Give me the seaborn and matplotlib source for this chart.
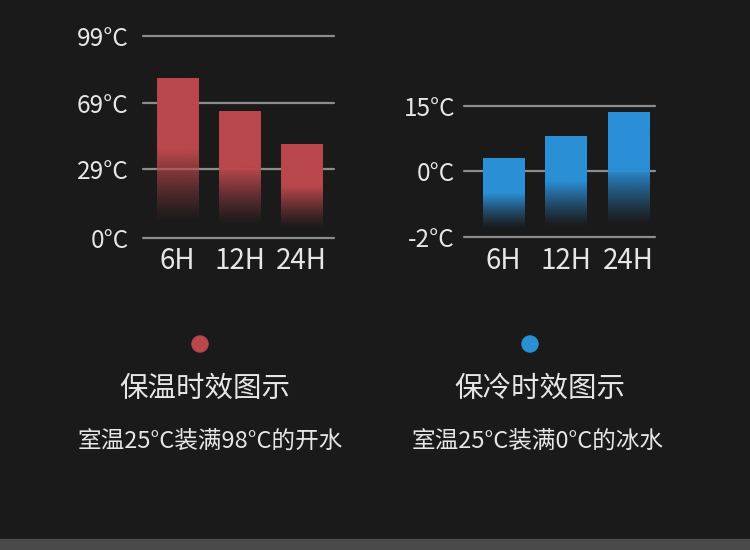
import numpy as np
import pandas as pd
import matplotlib
matplotlib.use("Agg")
import matplotlib.pyplot as plt
import seaborn as sns
from matplotlib.colors import to_rgb
from matplotlib.patches import Ellipse, Rectangle

# chart data
hours = ["6H", "12H", "24H"]
hot_values = [80, 64, 44]        # 保温: 98°C boiling water
cold_values = [3, 8, 13.5]       # 保冷: 0°C ice water
hot_ticks = [0, 29, 69, 99]
cold_ticks = [-2, 0, 15]
hot_title = "保温时效图示"
cold_title = "保冷时效图示"
hot_note = "室温25°C装满98°C的开水"
cold_note = "室温25°C装满0°C的冰水"

BG = "#1a1a1a"
RED = "#b9474b"
BLUE = "#2b8fd6"
GRID = "#8c8c8c"
TXT = "#e6e6e6"

sns.set_theme(style="dark")
plt.rcParams['font.family'] = ['Noto Sans CJK SC', 'DejaVu Sans']

# the axis is not linear: tick values sit at (almost) evenly spaced gridlines
hot_tick_pos = [0, 69.3, 135, 202.3]
cold_tick_pos = [0, 66.3, 131.6]


def fade_bars(ax, color):
    """replace flat bar fill by a colour that fades out to the bottom"""
    rgb = to_rgb(color)
    n = 256
    t = np.linspace(0, 1, n)[:, None]
    alpha = np.clip((t - 0.10) / (0.55 - 0.10), 0, 1) ** 1.2
    img = np.zeros((n, 1, 4))
    img[..., 0], img[..., 1], img[..., 2] = rgb
    img[..., 3] = alpha
    for patch in ax.patches:
        x0, y0 = patch.get_x(), patch.get_y()
        w, h = patch.get_width(), patch.get_height()
        im = ax.imshow(img, origin="lower", aspect="auto",
                       extent=(x0, x0 + w, y0, y0 + h), zorder=3,
                       interpolation="bilinear")
        im.set_clip_path(patch)
        patch.set_alpha(0)
    ax.set_aspect("auto")


def draw_panel(ax, values, ticks, tick_pos, color, xlim, ypad):
    heights = np.interp(values, ticks, tick_pos)
    df = pd.DataFrame({"hour": hours, "h": heights})
    sns.barplot(data=df, x="hour", y="h", color=color, width=0.67,
                saturation=1, ax=ax, zorder=3)
    fade_bars(ax, color)
    ax.set_facecolor(BG)
    for p in tick_pos:
        ax.axhline(p, color=GRID, lw=1.6, zorder=2, clip_on=False)
    ax.set_xlim(*xlim)
    ax.set_ylim(tick_pos[0], tick_pos[-1])
    ax.set_yticks(tick_pos)
    ax.set_yticklabels([f"{v}°C" for v in ticks])
    ax.tick_params(axis="y", colors=TXT, labelsize=17.5, length=0, pad=ypad)
    ax.tick_params(axis="x", colors=TXT, labelsize=20, length=0, pad=6)
    ax.set_xlabel("")
    ax.set_ylabel("")
    ax.grid(False)
    for s in ax.spines.values():
        s.set_visible(False)


fig = plt.figure(figsize=(7.5, 5.5), dpi=100, facecolor=BG)

ax1 = fig.add_axes([143.3 / 750, 1 - 238 / 550, 190.7 / 750, 202.3 / 550])
draw_panel(ax1, hot_values, hot_ticks, hot_tick_pos, RED, (-0.55, 2.52), 10.5)

ax2 = fig.add_axes([464 / 750, 1 - 237.3 / 550, 191 / 750, 131.6 / 550])
draw_panel(ax2, cold_values, cold_ticks, cold_tick_pos, BLUE, (-0.635, 2.42), 6.5)

# legend dots and captions
r = 8
for cx, c in [(200, RED), (530, BLUE)]:
    fig.patches.append(Ellipse((cx / 750, 1 - 344 / 550), 2 * r / 750, 2 * r / 550,
                               transform=fig.transFigure, color=c, figure=fig))

fig.text(205 / 750, 1 - 389 / 550, hot_title, color=TXT, fontsize=20.5,
         ha="center", va="center")
fig.text(540 / 750, 1 - 389 / 550, cold_title, color=TXT, fontsize=20.5,
         ha="center", va="center")
fig.text(210 / 750, 1 - 441 / 550, hot_note, color=TXT, fontsize=17,
         ha="center", va="center")
fig.text(538 / 750, 1 - 441 / 550, cold_note, color=TXT, fontsize=17,
         ha="center", va="center")

# grey strip at the bottom edge
fig.patches.append(Rectangle((0, 0), 1, 11 / 550, transform=fig.transFigure,
                             color="#4a4a4a", figure=fig))

fig.savefig("out.png", dpi=100, facecolor=BG)
